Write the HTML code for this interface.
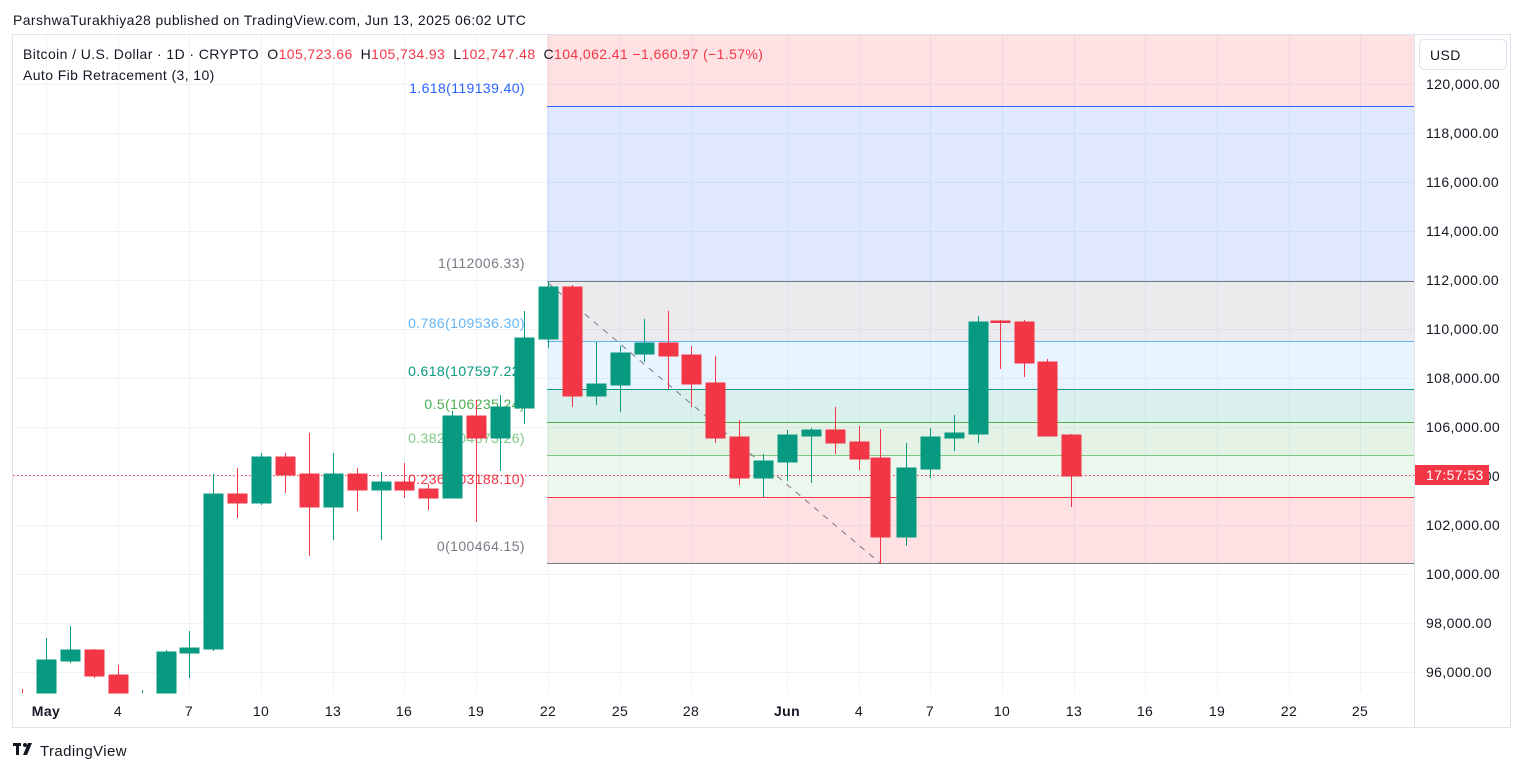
<!DOCTYPE html>
<html><head><meta charset="utf-8"><style>
body{margin:0;background:#fff;width:1524px;height:772px;overflow:hidden;font-family:"Liberation Sans",sans-serif}
svg text{font-family:"Liberation Sans",sans-serif;letter-spacing:0.4px}
</style></head><body>
<svg width="1524" height="772" xmlns="http://www.w3.org/2000/svg">
<text x="13" y="25" font-size="14" fill="#131722">ParshwaTurakhiya28 published on TradingView.com, Jun 13, 2025 06:02 UTC</text>
<rect x="12.5" y="34.5" width="1498" height="693" fill="#fff" stroke="#e0e3eb"/>
<g stroke="#f0f3fa" stroke-width="1">
<line x1="13" x2="1414" y1="84.5" y2="84.5"/><line x1="13" x2="1414" y1="133.5" y2="133.5"/><line x1="13" x2="1414" y1="182.5" y2="182.5"/><line x1="13" x2="1414" y1="231.5" y2="231.5"/><line x1="13" x2="1414" y1="280.5" y2="280.5"/><line x1="13" x2="1414" y1="329.5" y2="329.5"/><line x1="13" x2="1414" y1="378.5" y2="378.5"/><line x1="13" x2="1414" y1="427.5" y2="427.5"/><line x1="13" x2="1414" y1="476.5" y2="476.5"/><line x1="13" x2="1414" y1="525.5" y2="525.5"/><line x1="13" x2="1414" y1="574.5" y2="574.5"/><line x1="13" x2="1414" y1="623.5" y2="623.5"/><line x1="13" x2="1414" y1="672.5" y2="672.5"/>
<line y1="35" y2="693" x1="46.5" x2="46.5"/><line y1="35" y2="693" x1="118.5" x2="118.5"/><line y1="35" y2="693" x1="189.5" x2="189.5"/><line y1="35" y2="693" x1="261.5" x2="261.5"/><line y1="35" y2="693" x1="333.5" x2="333.5"/><line y1="35" y2="693" x1="404.5" x2="404.5"/><line y1="35" y2="693" x1="476.5" x2="476.5"/><line y1="35" y2="693" x1="548.5" x2="548.5"/><line y1="35" y2="693" x1="620.5" x2="620.5"/><line y1="35" y2="693" x1="691.5" x2="691.5"/><line y1="35" y2="693" x1="787.5" x2="787.5"/><line y1="35" y2="693" x1="859.5" x2="859.5"/><line y1="35" y2="693" x1="930.5" x2="930.5"/><line y1="35" y2="693" x1="1002.5" x2="1002.5"/><line y1="35" y2="693" x1="1074.5" x2="1074.5"/><line y1="35" y2="693" x1="1145.5" x2="1145.5"/><line y1="35" y2="693" x1="1217.5" x2="1217.5"/><line y1="35" y2="693" x1="1289.5" x2="1289.5"/><line y1="35" y2="693" x1="1360.5" x2="1360.5"/>
</g>
<rect x="547" y="35" width="867" height="71" fill="#f23645" fill-opacity="0.15"/>
<rect x="547" y="106" width="867" height="175" fill="#2962ff" fill-opacity="0.15"/>
<rect x="547" y="281" width="867" height="60" fill="#787b86" fill-opacity="0.15"/>
<rect x="547" y="341" width="867" height="48" fill="#64b5f6" fill-opacity="0.15"/>
<rect x="547" y="389" width="867" height="33" fill="#089981" fill-opacity="0.15"/>
<rect x="547" y="422" width="867" height="33" fill="#4caf50" fill-opacity="0.15"/>
<rect x="547" y="455" width="867" height="42" fill="#81c784" fill-opacity="0.15"/>
<rect x="547" y="497" width="867" height="66" fill="#f23645" fill-opacity="0.15"/>
<g stroke-width="1">
<line x1="547" x2="1414" y1="106.5" y2="106.5" stroke="#2962ff"/>
<line x1="547" x2="1414" y1="281.5" y2="281.5" stroke="#787b86"/>
<line x1="547" x2="1414" y1="341.5" y2="341.5" stroke="#64b5f6"/>
<line x1="547" x2="1414" y1="389.5" y2="389.5" stroke="#089981"/>
<line x1="547" x2="1414" y1="422.5" y2="422.5" stroke="#4caf50"/>
<line x1="547" x2="1414" y1="455.5" y2="455.5" stroke="#81c784"/>
<line x1="547" x2="1414" y1="497.5" y2="497.5" stroke="#f23645"/>
<line x1="547" x2="1414" y1="563.5" y2="563.5" stroke="#787b86"/>
</g>
<line x1="548" y1="283" x2="880" y2="563" stroke="#787b86" stroke-dasharray="6,6"/>
<line x1="13" x2="1414" y1="475.5" y2="475.5" stroke="#f23645" stroke-dasharray="1.5,2.5"/>
<g font-size="14" text-anchor="end">
<text x="525" y="93" fill="#2962ff">1.618(119139.40)</text>
<text x="525" y="268" fill="#787b86">1(112006.33)</text>
<text x="525" y="328" fill="#64b5f6">0.786(109536.30)</text>
<text x="525" y="376" fill="#089981">0.618(107597.22)</text>
<text x="525" y="409" fill="#4caf50">0.5(106235.24)</text>
<text x="525" y="443" fill="#81c784">0.382(104873.26)</text>
<text x="525" y="484" fill="#f23645">0.236(103188.10)</text>
<text x="525" y="551" fill="#787b86">0(100464.15)</text>
</g>
<g>
<line x1="22.5" x2="22.5" y1="689" y2="693" stroke="#f23645"/>
<g stroke="#089981" fill="#089981">
<line x1="46.5" x2="46.5" y1="638" y2="693"/><rect x="37" y="660" width="19" height="33"/>
<line x1="70.5" x2="70.5" y1="626" y2="663"/><rect x="61" y="650" width="19" height="11"/>
<line x1="142.5" x2="142.5" y1="690" y2="693"/>
<line x1="166.5" x2="166.5" y1="650" y2="693"/><rect x="157" y="652" width="19" height="41"/>
<line x1="189.5" x2="189.5" y1="631" y2="678"/><rect x="180" y="648" width="19" height="5"/>
<line x1="213.5" x2="213.5" y1="474" y2="651"/><rect x="204" y="494" width="19" height="155"/>
<line x1="261.5" x2="261.5" y1="453" y2="505"/><rect x="252" y="457" width="19" height="46"/>
<line x1="333.5" x2="333.5" y1="453" y2="540"/><rect x="324" y="474" width="19" height="33"/>
<line x1="381.5" x2="381.5" y1="472" y2="540"/><rect x="372" y="482" width="19" height="8"/>
<line x1="452.5" x2="452.5" y1="411" y2="498"/><rect x="443" y="416" width="19" height="82"/>
<line x1="500.5" x2="500.5" y1="395" y2="471"/><rect x="491" y="407" width="19" height="31"/>
<line x1="524.5" x2="524.5" y1="311" y2="424"/><rect x="515" y="338" width="19" height="70"/>
<line x1="548.5" x2="548.5" y1="282" y2="348"/><rect x="539" y="287" width="19" height="52"/>
<line x1="596.5" x2="596.5" y1="342" y2="405"/><rect x="587" y="384" width="19" height="12"/>
<line x1="620.5" x2="620.5" y1="346" y2="412"/><rect x="611" y="353" width="19" height="32"/>
<line x1="644.5" x2="644.5" y1="319" y2="362"/><rect x="635" y="343" width="19" height="11"/>
<line x1="763.5" x2="763.5" y1="454" y2="497"/><rect x="754" y="461" width="19" height="17"/>
<line x1="787.5" x2="787.5" y1="430" y2="481"/><rect x="778" y="435" width="19" height="27"/>
<line x1="811.5" x2="811.5" y1="428" y2="483"/><rect x="802" y="430" width="19" height="6"/>
<line x1="906.5" x2="906.5" y1="443" y2="546"/><rect x="897" y="468" width="19" height="69"/>
<line x1="930.5" x2="930.5" y1="428" y2="478"/><rect x="921" y="437" width="19" height="32"/>
<line x1="954.5" x2="954.5" y1="415" y2="451"/><rect x="945" y="433" width="19" height="5"/>
<line x1="978.5" x2="978.5" y1="316" y2="443"/><rect x="969" y="322" width="19" height="112"/>
</g>
<g stroke="#f23645" fill="#f23645">
<line x1="94.5" x2="94.5" y1="649" y2="678"/><rect x="85" y="650" width="19" height="26"/>
<line x1="118.5" x2="118.5" y1="665" y2="693"/><rect x="109" y="675" width="19" height="18"/>
<line x1="237.5" x2="237.5" y1="468" y2="518"/><rect x="228" y="494" width="19" height="9"/>
<line x1="285.5" x2="285.5" y1="453" y2="493"/><rect x="276" y="457" width="19" height="18"/>
<line x1="309.5" x2="309.5" y1="433" y2="556"/><rect x="300" y="474" width="19" height="33"/>
<line x1="357.5" x2="357.5" y1="468" y2="511"/><rect x="348" y="474" width="19" height="16"/>
<line x1="404.5" x2="404.5" y1="463" y2="498"/><rect x="395" y="482" width="19" height="8"/>
<line x1="428.5" x2="428.5" y1="484" y2="510"/><rect x="419" y="489" width="19" height="9"/>
<line x1="476.5" x2="476.5" y1="400" y2="522"/><rect x="467" y="416" width="19" height="22"/>
<line x1="572.5" x2="572.5" y1="285" y2="407"/><rect x="563" y="287" width="19" height="109"/>
<line x1="668.5" x2="668.5" y1="311" y2="389"/><rect x="659" y="343" width="19" height="13"/>
<line x1="691.5" x2="691.5" y1="346" y2="407"/><rect x="682" y="355" width="19" height="29"/>
<line x1="715.5" x2="715.5" y1="356" y2="443"/><rect x="706" y="383" width="19" height="55"/>
<line x1="739.5" x2="739.5" y1="420" y2="485"/><rect x="730" y="437" width="19" height="41"/>
<line x1="835.5" x2="835.5" y1="407" y2="454"/><rect x="826" y="430" width="19" height="13"/>
<line x1="859.5" x2="859.5" y1="426" y2="470"/><rect x="850" y="442" width="19" height="17"/>
<line x1="880.5" x2="880.5" y1="429" y2="564"/><rect x="871" y="458" width="19" height="79"/>
<line x1="1000.5" x2="1000.5" y1="320" y2="369"/><rect x="991" y="321" width="19" height="1.5"/>
<line x1="1024.5" x2="1024.5" y1="320" y2="377"/><rect x="1015" y="322" width="19" height="41"/>
<line x1="1047.5" x2="1047.5" y1="359" y2="436"/><rect x="1038" y="362" width="19" height="74"/>
<line x1="1071.5" x2="1071.5" y1="434" y2="507"/><rect x="1062" y="435" width="19" height="41"/>
</g>
</g>
<text x="23" y="59" font-size="14" fill="#131722">Bitcoin / U.S. Dollar · 1D · CRYPTO <tspan dx="4">O</tspan><tspan fill="#f23645">105,723.66</tspan><tspan dx="8">H</tspan><tspan fill="#f23645">105,734.93</tspan><tspan dx="8">L</tspan><tspan fill="#f23645">102,747.48</tspan><tspan dx="8">C</tspan><tspan fill="#f23645">104,062.41 −1,660.97 (−1.57%)</tspan></text>
<text x="23" y="80" font-size="14" fill="#131722">Auto Fib Retracement (3, 10)</text>
<line x1="1414.5" x2="1414.5" y1="35" y2="727" stroke="#e0e3eb"/>
<rect x="1419.5" y="39.5" width="87" height="30" rx="5" fill="#fff" stroke="#e0e3eb"/>
<text x="1430" y="60" font-size="14" fill="#131722">USD</text>
<g font-size="14" fill="#131722">
<text x="1426" y="89">120,000.00</text><text x="1426" y="138">118,000.00</text><text x="1426" y="187">116,000.00</text><text x="1426" y="236">114,000.00</text><text x="1426" y="285">112,000.00</text><text x="1426" y="334">110,000.00</text><text x="1426" y="383">108,000.00</text><text x="1426" y="432">106,000.00</text><text x="1426" y="481">104,000.00</text><text x="1426" y="530">102,000.00</text><text x="1426" y="579">100,000.00</text><text x="1426" y="628">98,000.00</text><text x="1426" y="677">96,000.00</text>
</g>
<rect x="1415" y="465" width="74" height="20" fill="#f23645"/>
<text x="1426" y="480" font-size="14" fill="#fff">17:57:53</text>
<g font-size="14" fill="#131722" text-anchor="middle">
<text x="46" y="716" font-weight="bold">May</text><text x="118" y="716">4</text><text x="189" y="716">7</text><text x="261" y="716">10</text><text x="333" y="716">13</text><text x="404" y="716">16</text><text x="476" y="716">19</text><text x="548" y="716">22</text><text x="620" y="716">25</text><text x="691" y="716">28</text><text x="787" y="716" font-weight="bold">Jun</text><text x="859" y="716">4</text><text x="930" y="716">7</text><text x="1002" y="716">10</text><text x="1074" y="716">13</text><text x="1145" y="716">16</text><text x="1217" y="716">19</text><text x="1289" y="716">22</text><text x="1360" y="716">25</text>
</g>
<g fill="#131722">
<rect x="13" y="743" width="8" height="3"/><rect x="16" y="743" width="3" height="12"/><circle cx="25" cy="745" r="2"/><path d="M28 743h4l-5 12h-4z"/>
</g>
<text x="40" y="756" font-size="15" fill="#131722">TradingView</text>
</svg>
</body></html>
